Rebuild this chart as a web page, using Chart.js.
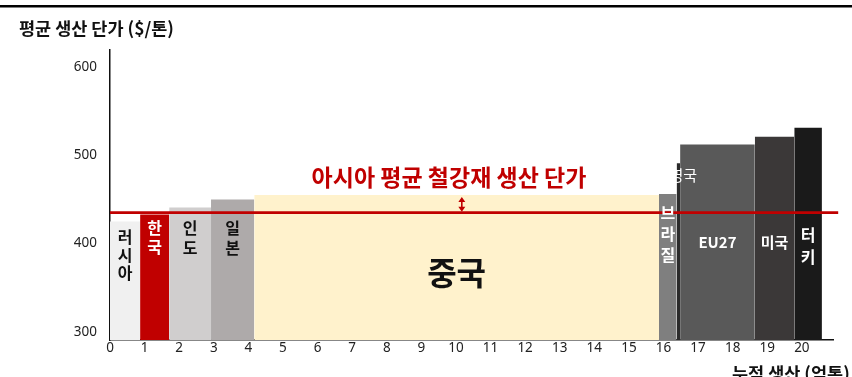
<!DOCTYPE html>
<html>
<head>
<meta charset="utf-8">
<script src="https://cdn.jsdelivr.net/npm/chart.js@4"></script>
<style>
  html, body { margin: 0; padding: 0; background: #fff; }
  canvas { display: block; }
</style>
</head>
<body>
<canvas id="costChart" width="852" height="377"></canvas>
<script>
// cost curve: width = production (억톤), height = unit cost ($/톤)
const countries = ['러시아', '한국', '인도', '일본', '중국', '브라질', '영국', 'EU27', '미국', '터키'];
const cumStart = [0, 0.87, 1.71, 2.92, 4.17, 15.87, 16.38, 16.48, 18.64, 19.78];
const cumEnd = [0.87, 1.71, 2.92, 4.17, 15.87, 16.38, 16.48, 18.64, 19.78, 20.58];
const unitCost = [425, 433, 441, 450, 455, 456, 491, 512, 521, 531];
const barColors = ['#f0f0f0', '#c00000', '#d0cece', '#aeaaaa', '#fff2cc', '#7f7f7f', '#2b2b2b', '#595959', '#3b3838', '#1a1a1a'];
const asiaAvg = 435;
const xTicks = [0, 1, 2, 3, 4, 5, 6, 7, 8, 9, 10, 11, 12, 13, 14, 15, 16, 17, 18, 19, 20];
const yTicks = [300, 400, 500, 600];

const KR = "'Noto Sans CJK KR', 'Noto Sans', sans-serif";
const RED = '#c00000';

// bar name labels: [bar index, top y value, line height px, color, font, vertical?]
const nameLabels = [
  [0, 407.5, 18, '#111', 'bold 16px ' + KR, true],
  [1, 417.5, 19, '#fff', 'bold 16px ' + KR, true],
  [2, 417.5, 20, '#111', 'bold 16px ' + KR, true],
  [3, 417.5, 20, '#111', 'bold 16px ' + KR, true],
  [4, 367, 0, '#111', 'bold 32px ' + KR, false],
  [5, 434.5, 21, '#fff', 'bold 16px ' + KR, true],
  [7, 401, 0, '#fff', 'bold 15px ' + KR, false],
  [8, 401, 0, '#fff', 'bold 15px ' + KR, false],
  [9, 410, 22, '#fff', 'bold 16px ' + KR, true]
];

const datasets = [{
  label: '아시아 평균',
  data: [{x: 0, y: asiaAvg}, {x: 21.05, y: asiaAvg}],
  borderColor: RED,
  borderWidth: 2.8,
  pointRadius: 0,
  fill: false,
  clip: false,
  order: 0
}];
countries.forEach((c, i) => {
  datasets.push({
    label: c,
    data: [{x: cumStart[i], y: unitCost[i]}, {x: cumEnd[i], y: unitCost[i]}],
    borderWidth: 0,
    borderColor: barColors[i],
    backgroundColor: barColors[i],
    pointRadius: 0,
    fill: 'start',
    order: 1
  });
});

const decorations = {
  id: 'decorations',
  afterDatasetsDraw(chart) {
    const ctx = chart.ctx;
    const xs = chart.scales.x, ys = chart.scales.y;
    ctx.save();
    ctx.textAlign = 'center';
    ctx.textBaseline = 'middle';

    nameLabels.forEach(([i, yv, lh, color, font, vertical]) => {
      const cx = xs.getPixelForValue((cumStart[i] + cumEnd[i]) / 2);
      const cy = ys.getPixelForValue(yv);
      ctx.fillStyle = color;
      ctx.font = font;
      if (vertical) {
        Array.from(countries[i]).forEach((ch, k) => ctx.fillText(ch, cx, cy + k * lh));
      } else {
        ctx.fillText(countries[i], cx, cy);
      }
    });

    // 영국 label sits to the right of its thin bar
    ctx.fillStyle = '#fff';
    ctx.font = '15px ' + KR;
    ctx.fillText(countries[6], xs.getPixelForValue(16.57), ys.getPixelForValue(477.5));

    // average line caption and gap arrow
    ctx.fillStyle = RED;
    ctx.font = 'bold 23px ' + KR;
    ctx.fillText('아시아 평균 철강재 생산 단가', xs.getPixelForValue(9.8), ys.getPixelForValue(475.5));

    const ax = xs.getPixelForValue(10.17);
    const aTop = ys.getPixelForValue(unitCost[4]) + 2;
    const aBot = ys.getPixelForValue(asiaAvg) - 1;
    ctx.strokeStyle = RED;
    ctx.lineWidth = 1.6;
    ctx.beginPath();
    ctx.moveTo(ax, aTop + 3);
    ctx.lineTo(ax, aBot - 3);
    ctx.stroke();
    ctx.beginPath();
    ctx.moveTo(ax, aTop); ctx.lineTo(ax - 3.5, aTop + 5); ctx.lineTo(ax + 3.5, aTop + 5); ctx.closePath();
    ctx.moveTo(ax, aBot); ctx.lineTo(ax - 3.5, aBot - 5); ctx.lineTo(ax + 3.5, aBot - 5); ctx.closePath();
    ctx.fill();

    // axis titles
    ctx.fillStyle = '#111';
    ctx.font = 'bold 17.5px ' + KR;
    ctx.textAlign = 'left';
    ctx.fillText('평균 생산 단가 ($/톤)', 19, 28);
    ctx.fillText('누적 생산 (억톤)', 732, 373);

    // rule across the top
    ctx.fillStyle = '#000';
    ctx.fillRect(0, 5, chart.width, 2.5);
    ctx.restore();
  }
};

new Chart(document.getElementById('costChart'), {
  type: 'line',
  data: { datasets: datasets },
  plugins: [decorations],
  options: {
    responsive: false,
    animation: false,
    layout: { padding: { left: 0, top: 50, right: 19, bottom: 0 } },
    plugins: { legend: { display: false }, tooltip: { enabled: false } },
    scales: {
      x: {
        type: 'linear',
        min: 0,
        max: 20.9,
        afterBuildTicks: s => { s.ticks = xTicks.map(v => ({ value: v })); },
        afterFit: s => { s.height = 37; },
        grid: { display: false, drawTicks: false },
        border: { display: true, color: '#111', width: 1.5 },
        ticks: { padding: 0, color: '#222', font: { family: 'Noto Sans', size: 13.5 }, maxRotation: 0, autoSkip: false }
      },
      y: {
        type: 'linear',
        min: 291,
        max: 619,
        afterBuildTicks: s => { s.ticks = yTicks.map(v => ({ value: v })); },
        afterFit: s => { s.width = 110; },
        grid: { display: false, drawTicks: false },
        border: { display: true, color: '#111', width: 1.5 },
        ticks: { padding: 13, color: '#222', font: { family: 'Noto Sans', size: 13.5 } }
      }
    }
  }
});
</script>
</body>
</html>
